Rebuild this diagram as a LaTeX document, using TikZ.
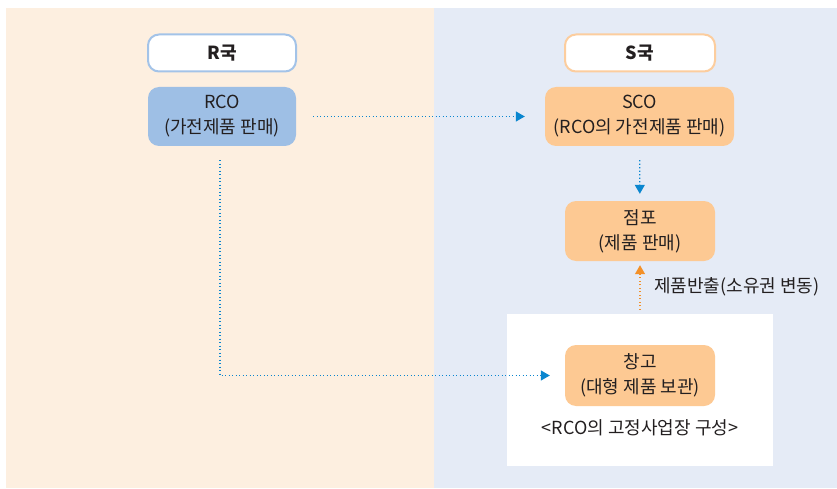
\documentclass[tikz,border=0pt]{standalone}
\usepackage{fontspec}
\setmainfont{Noto Sans CJK KR}
\usetikzlibrary{arrows.meta}
\definecolor{leftbg}{HTML}{FDEFE0}
\definecolor{rightbg}{HTML}{E5EBF6}
\definecolor{bluefill}{HTML}{9EBFE5}
\definecolor{blueline}{HTML}{A3C3E8}
\definecolor{orfill}{HTML}{FDC993}
\definecolor{orline}{HTML}{FCCD9E}
\definecolor{arrblue}{HTML}{0A86CF}
\definecolor{arror}{HTML}{F39028}
\definecolor{txt}{HTML}{231F20}
\tikzset{
  boxtext/.style={font=\fontsize{18}{25}\selectfont, align=center, text=txt, inner sep=0pt},
  country/.style={boxtext, draw, line width=2pt, fill=white, rounded corners=11pt, font=\fontsize{18}{25}\selectfont\bfseries},
  fillbox/.style={boxtext, rounded corners=11pt},
  dotarrow/.style={line width=1.2pt, dash pattern=on 1.2pt off 2.3pt, -{Triangle[length=9pt,width=10pt]}},
}
\begin{document}
\begin{tikzpicture}[x=1pt,y=-1pt]
\useasboundingbox (0,0) rectangle (837,489);
\fill[white] (0,0) rectangle (837,489);
\fill[leftbg] (6,8) rectangle (434,488);
\fill[rightbg] (434,8) rectangle (837,488);
\fill[white] (507,314) rectangle (773,466);

\node[country, draw=blueline, minimum width=148pt, minimum height=37pt] (rk) at (222,53) {R국};
\node[country, draw=orline, minimum width=150pt, minimum height=37pt] (sk) at (640,53) {S국};
\node[fillbox, fill=bluefill, minimum width=148pt, minimum height=59pt] (rco) at (222,116.5) {RCO\\(가전제품 판매)};
\node[fillbox, fill=orfill, minimum width=189pt, minimum height=59pt] (sco) at (639.5,116.5) {SCO\\(RCO의 가전제품 판매)};
\node[fillbox, fill=orfill, minimum width=150pt, minimum height=60pt] (shop) at (640,231) {점포\\(제품 판매)};
\node[fillbox, fill=orfill, minimum width=150pt, minimum height=61pt] (ware) at (640,375.5) {창고\\(대형 제품 보관)};

\node[boxtext, anchor=west] (lbl) at (654,287) {제품반출(소유권 변동)};
\node[boxtext] (cap) at (640,428) {<RCO의 고정사업장 구성>};

\draw[dotarrow, arrblue, shorten <=17pt, shorten >=20pt] (rco) -- (sco);
\draw[dotarrow, arrblue, shorten <=14pt, shorten >=7pt] (sco) -- (shop);
\draw[dotarrow, arror, shorten <=35pt, shorten >=4pt] (ware) -- (shop);
\draw[dotarrow, arrblue, shorten <=14pt, shorten >=15pt] ([xshift=-2pt]rco.south) |- (ware.west);
\end{tikzpicture}
\end{document}
